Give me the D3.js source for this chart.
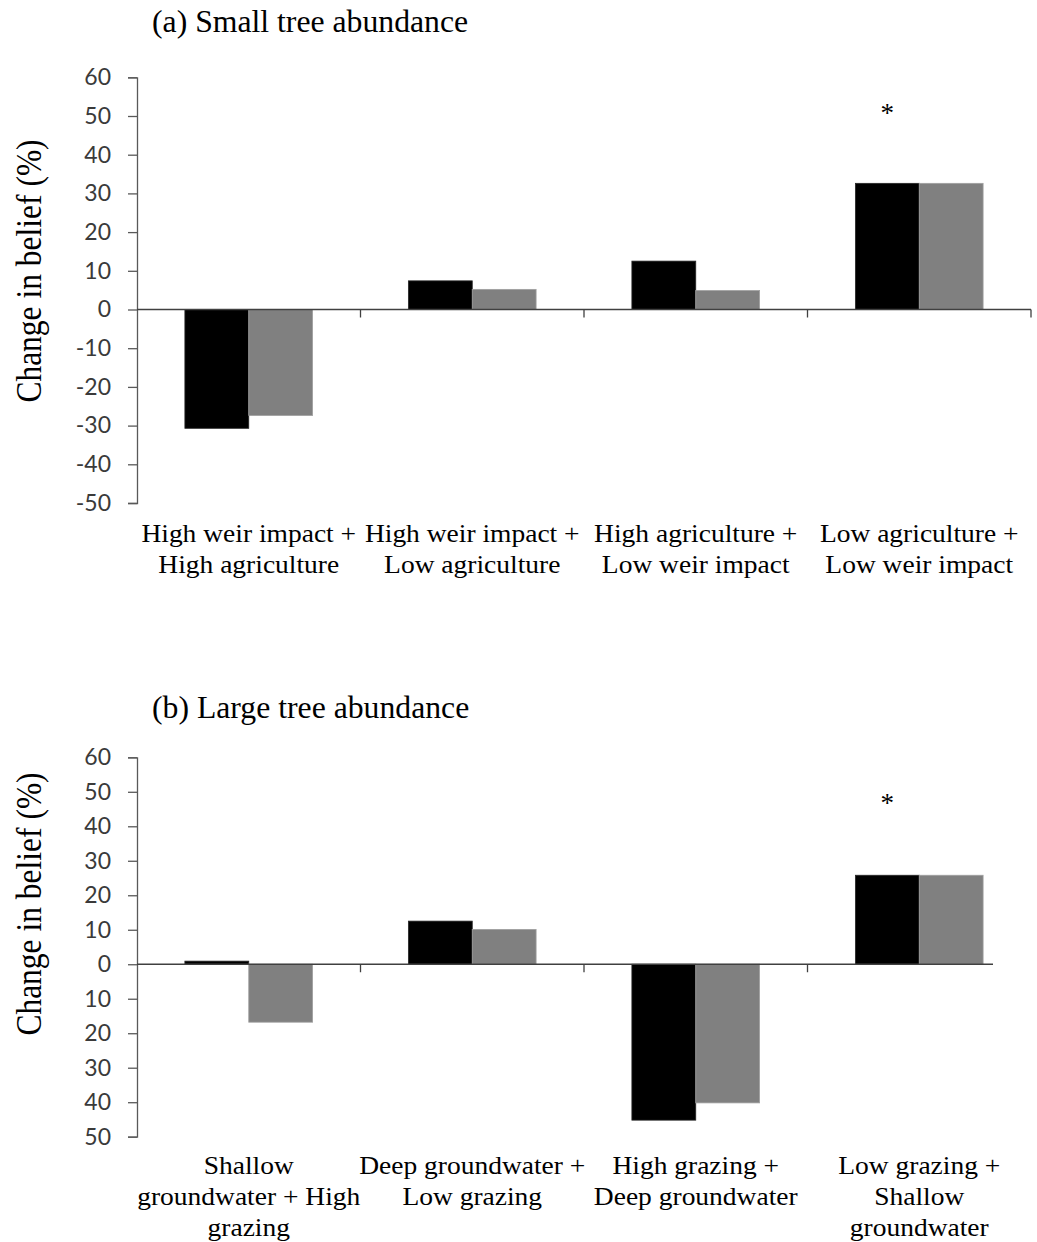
<!DOCTYPE html>
<html>
<head>
<meta charset="utf-8">
<script src="https://cdn.jsdelivr.net/npm/d3@7"></script>
<style>
  html, body { margin: 0; padding: 0; background: #fff; }
  svg { display: block; }
</style>
</head>
<body>
<svg id="chart" width="1037" height="1242"></svg>
<script>
// Panel (a): small tree abundance
const titleA = "(a) Small tree abundance";
const categoriesA = [
  ["High weir impact +", "High agriculture"],
  ["High weir impact +", "Low agriculture"],
  ["High agriculture +", "Low weir impact"],
  ["Low agriculture +", "Low weir impact"]
];
const seriesA1 = [-30.7, 7.4, 12.5, 32.6];
const seriesA2 = [-27.4, 5.2, 4.9, 32.6];
const starA = [null, null, null, 52];
const tickLabelsA = ["-50", "-40", "-30", "-20", "-10", "0", "10", "20", "30", "40", "50", "60"];

// Panel (b): large tree abundance
const titleB = "(b) Large tree abundance";
const categoriesB = [
  ["Shallow", "groundwater + High", "grazing"],
  ["Deep groundwater +", "Low grazing"],
  ["High grazing +", "Deep groundwater"],
  ["Low grazing +", "Shallow", "groundwater"]
];
const seriesB1 = [0.9, 12.5, -45.2, 25.8];
const seriesB2 = [-16.8, 10.1, -40.2, 25.8];
const starB = [null, null, null, 48];
const tickLabelsB = ["50", "40", "30", "20", "10", "0", "10", "20", "30", "40", "50", "60"];

const tickValues = [-50, -40, -30, -20, -10, 0, 10, 20, 30, 40, 50, 60];
const seriesColors = ["#000000", "#808080"];
const yLabel = "Change in belief (%)";

const serif = "'Liberation Serif', 'Times New Roman', serif";
const svg = d3.select("#chart");

function drawPanel(opts) {
  const g = svg.append("g");
  const x = d3.scaleBand()
    .domain(d3.range(opts.categories.length))
    .range([opts.left, opts.right])
    .padding(0);
  const xs = d3.scaleBand()
    .domain([0, 1])
    .range([0, x.bandwidth()])
    .paddingInner(0)
    .paddingOuter(0.75);
  const y = d3.scaleLinear().domain([-50, 60]).range([opts.bottom, opts.top]);

  // title
  g.append("text")
    .attr("transform", `translate(${opts.titleX},${opts.titleY}) scale(1.04,1)`)
    .attr("font-family", serif)
    .attr("font-size", 30.5)
    .attr("fill", "#000")
    .text(opts.title);

  // y-axis title
  g.append("text")
    .attr("transform", `translate(${opts.yLabelX},${opts.yLabelY}) rotate(-90) scale(1,1.15)`)
    .attr("text-anchor", "middle")
    .attr("font-family", serif)
    .attr("font-size", 31.5)
    .attr("fill", "#000")
    .text(yLabel);

  // bars
  opts.categories.forEach((c, i) => {
    [opts.s1[i], opts.s2[i]].forEach((val, k) => {
      g.append("rect")
        .attr("x", x(i) + xs(k))
        .attr("width", xs.bandwidth())
        .attr("y", y(Math.max(0, val)))
        .attr("height", Math.abs(y(val) - y(0)))
        .attr("fill", seriesColors[k])
        .attr("stroke", k === 0 ? "#262626" : "#a0a0a0")
        .attr("stroke-width", 0.8);
    });
  });

  // significance markers
  opts.stars.forEach((s, i) => {
    if (s == null) return;
    g.append("text")
      .attr("x", x(i) + xs(0) + xs.bandwidth() / 2)
      .attr("y", y(s))
      .attr("dy", "0.5em")
      .attr("text-anchor", "middle")
      .attr("font-family", serif)
      .attr("font-size", 27)
      .attr("fill", "#000")
      .text("*");
  });

  // y axis
  const yAxis = d3.axisLeft(y)
    .tickValues(tickValues)
    .tickSize(9)
    .tickPadding(17)
    .tickFormat((d, i) => opts.tickLabels[i]);
  const ya = g.append("g")
    .attr("transform", `translate(${opts.left},0)`)
    .call(yAxis);
  ya.select(".domain").attr("stroke", "#595959").attr("stroke-width", 1.3);
  ya.selectAll(".tick line").attr("stroke", "#595959").attr("stroke-width", 1.3);
  ya.selectAll(".tick text")
    .attr("font-family", "Lato, 'Open Sans', sans-serif")
    .attr("font-size", 23)
    .attr("fill", "#3a3a3a");

  // x axis along zero, ticks at category boundaries
  const xAxisG = g.append("g").attr("transform", `translate(0,${y(0)})`);
  xAxisG.append("line")
    .attr("x1", opts.left).attr("x2", opts.axisEnd)
    .attr("stroke", "#404040").attr("stroke-width", 1.3);
  const bounds = d3.range(1, opts.categories.length + 1)
    .map(i => i < opts.categories.length ? x(i) : x(i - 1) + x.bandwidth())
    .filter(b => b <= opts.axisEnd + 0.5);
  xAxisG.selectAll("line.tk").data(bounds).join("line")
    .attr("class", "tk")
    .attr("x1", d => d).attr("x2", d => d)
    .attr("y1", 0).attr("y2", 8)
    .attr("stroke", "#404040").attr("stroke-width", 1.3);

  // category labels
  opts.categories.forEach((lines, i) => {
    const cx = x(i) + x.bandwidth() / 2;
    const t = g.append("text")
      .attr("transform", `translate(${cx},${opts.catY}) scale(1.1,1)`)
      .attr("text-anchor", "middle")
      .attr("font-family", serif)
      .attr("font-size", 25)
      .attr("fill", "#000");
    lines.forEach((ln, j) => {
      t.append("tspan")
        .attr("x", 0)
        .attr("y", j * 31)
        .text(ln);
    });
  });
}

drawPanel({
  title: titleA, titleX: 152, titleY: 32,
  categories: categoriesA, s1: seriesA1, s2: seriesA2, stars: starA,
  tickLabels: tickLabelsA,
  left: 137, right: 1031, top: 77.3, bottom: 503, axisEnd: 1031,
  yLabelX: 41, yLabelY: 271, catY: 542
});

drawPanel({
  title: titleB, titleX: 152, titleY: 718,
  categories: categoriesB, s1: seriesB1, s2: seriesB2, stars: starB,
  tickLabels: tickLabelsB,
  left: 137, right: 1031, top: 757.3, bottom: 1136.7, axisEnd: 993,
  yLabelX: 41, yLabelY: 904, catY: 1174
});
</script>
</body>
</html>
